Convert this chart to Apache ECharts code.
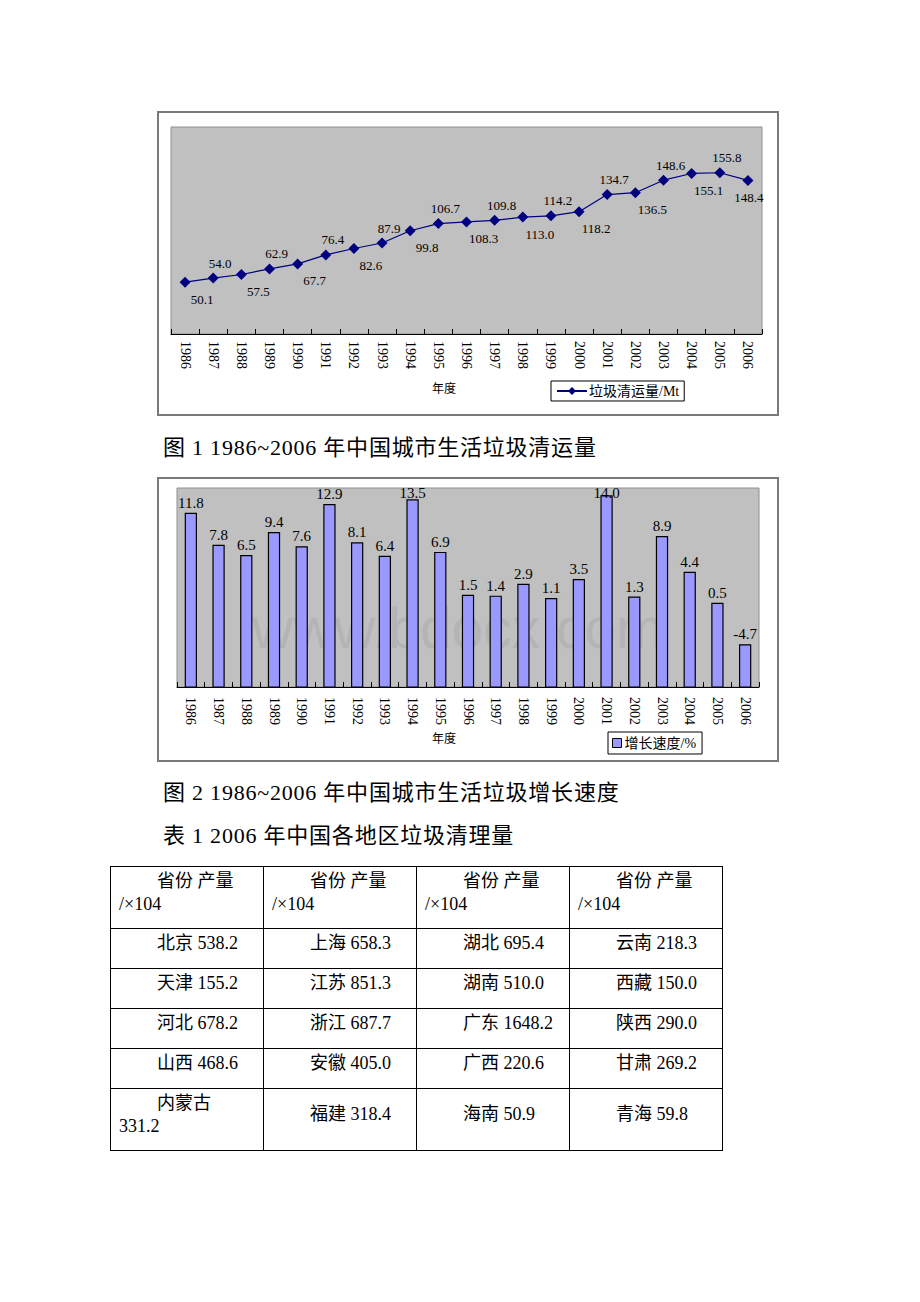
<!DOCTYPE html>
<html>
<head>
<meta charset="utf-8">
<script src="https://cdn.jsdelivr.net/npm/echarts@6/dist/echarts.min.js"></script>
<style>
  html, body { margin: 0; padding: 0; background: #fff; }
  body { width: 920px; height: 1302px; position: relative; overflow: hidden;
         font-family: "Liberation Serif", "Noto Sans CJK SC", serif; color: #000; }
  .box { position: absolute; box-sizing: border-box; border: 2px solid #7a7a7a; background: #fff; }
  .cap { position: absolute; left: 163px; font-size: 22px; letter-spacing: 0.78px; line-height: 24px; white-space: nowrap; }
  #tbl { position: absolute; left: 110px; top: 866px; display: grid;
         grid-template-columns: 153px 153px 153px 153px;
         grid-template-rows: 62px 40px 40px 40px 40px 62px;
         border-left: 1px solid #000; border-top: 1px solid #000; box-sizing: border-box; }
  #tbl .c { box-sizing: border-box; border-right: 1px solid #000; border-bottom: 1px solid #000;
            display: flex; align-items: center; padding-bottom: 10px; font-size: 18px; line-height: 23px; }
  #tbl .c span { display: block; padding-left: 8px; text-indent: 38px; white-space: nowrap; }
</style>
</head>
<body>
<div class="box" id="c1" style="left:157px;top:111px;width:622px;height:305px;"></div>
<div class="cap" style="top:436px;">图 1 1986~2006 年中国城市生活垃圾清运量</div>
<div class="box" id="c2" style="left:157px;top:477px;width:622px;height:285px;"></div>
<div class="cap" style="top:781px;">图 2 1986~2006 年中国城市生活垃圾增长速度</div>
<div class="cap" style="top:824px;">表 1 2006 年中国各地区垃圾清理量</div>
<div id="tbl"></div>
<script>
// ---- data ----
const years = ['1986','1987','1988','1989','1990','1991','1992','1993','1994','1995','1996',
               '1997','1998','1999','2000','2001','2002','2003','2004','2005','2006'];
const cleanVolume = [50.1, 54.0, 57.5, 62.9, 67.7, 76.4, 82.6, 87.9, 99.8, 106.7, 108.3,
                     109.8, 113.0, 114.2, 118.2, 134.7, 136.5, 148.6, 155.1, 155.8, 148.4];
const growthRate = [11.8, 7.8, 6.5, 9.4, 7.6, 12.9, 8.1, 6.4, 13.5, 6.9, 1.5,
                    1.4, 2.9, 1.1, 3.5, 14.0, 1.3, 8.9, 4.4, 0.5, -4.7];
const seriesName1 = '垃圾清运量/Mt';
const seriesName2 = '增长速度/%';
const axisName = '年度';
const tableHeader = ['省份 产量', '/×104'];
const provinces = [
  ['北京', '上海', '湖北', '云南'],
  ['天津', '江苏', '湖南', '西藏'],
  ['河北', '浙江', '广东', '陕西'],
  ['山西', '安徽', '广西', '甘肃'],
  ['内蒙古', '福建', '海南', '青海']
];
const amounts = [
  [538.2, 658.3, 695.4, 218.3],
  [155.2, 851.3, 510.0, 150.0],
  [678.2, 687.7, 1648.2, 290.0],
  [468.6, 405.0, 220.6, 269.2],
  [331.2, 318.4, 50.9, 59.8]
];

// ---- table ----
(function(){
  const tbl = document.getElementById('tbl');
  let html = '';
  for (let k = 0; k < 4; k++) html += '<div class="c"><span>' + tableHeader[0] + '<br>' + tableHeader[1] + '</span></div>';
  provinces.forEach(function(row, r){
    row.forEach(function(p, c){
      const v = amounts[r][c].toFixed(1);
      const txt = (p.length > 2) ? (p + '<br>' + v) : (p + ' ' + v);
      html += '<div class="c"><span>' + txt + '</span></div>';
    });
  });
  tbl.innerHTML = html;
})();

const serif = '"Liberation Serif", "Times New Roman", serif';
const mixed = '"Liberation Serif", "Noto Sans CJK SC", serif';
const cjk = '"Noto Sans CJK SC", sans-serif';

// ---- chart 1: line ----
const ch1 = echarts.init(document.getElementById('c1'), null, {renderer: 'svg'});
const lastIdx = cleanVolume.length - 1;
ch1.setOption({
  animation: false,
  grid: { left: 12, top: 14, width: 591, height: 207, show: true,
          backgroundColor: '#C0C0C0', borderColor: '#909090', borderWidth: 1 },
  xAxis: {
    type: 'category', data: years, boundaryGap: true,
    axisLine: { onZero: false, lineStyle: { color: '#000', width: 1 } },
    axisTick: { show: true, inside: true, length: 5, interval: 0, lineStyle: { color: '#000' } },
    axisLabel: { rotate: -90, interval: 0, margin: 7, fontSize: 14, fontFamily: serif, color: '#000' },
    splitLine: { show: false }
  },
  yAxis: { type: 'value', min: 0, max: 200, show: false, splitLine: { show: false } },
  legend: {
    left: 392, top: 268, padding: [3, 5, 3, 5], itemWidth: 30, itemHeight: 10, itemGap: 0,
    borderColor: '#000', borderWidth: 1, backgroundColor: '#fff', borderRadius: 0,
    textStyle: { fontSize: 14, fontFamily: mixed, color: '#000', padding: [0, 0, 0, -3] },
    data: [seriesName1]
  },
  graphic: [{ type: 'text', left: 273, top: 268,
              style: { text: axisName, fontSize: 12, fontFamily: cjk, fill: '#000' } }],
  series: [{
    name: seriesName1, type: 'line',
    data: cleanVolume.map(function(v, i){
      return { value: v, label: (i % 2 === 0)
        ? { position: 'bottom', offset: [i === lastIdx ? 1 : 17, 0] }
        : { position: 'top', offset: [7, 2] } };
    }),
    symbol: 'diamond', symbolSize: 11,
    lineStyle: { color: '#000080', width: 1.2 },
    itemStyle: { color: '#000080' },
    label: { show: true, fontSize: 13, fontFamily: serif, color: '#000',
             formatter: function(p){ return Number(p.value).toFixed(1); } }
  }]
});

// ---- chart 2: bars ----
const ch2 = echarts.init(document.getElementById('c2'), null, {renderer: 'svg'});
ch2.setOption({
  animation: false,
  grid: { left: 18, top: 9, width: 582, height: 199, show: true,
          backgroundColor: '#C0C0C0', borderColor: '#909090', borderWidth: 1 },
  xAxis: {
    type: 'category', data: years, boundaryGap: true,
    axisLine: { onZero: false, lineStyle: { color: '#000', width: 1 } },
    axisTick: { show: true, inside: true, length: 5, interval: 0, lineStyle: { color: '#000' } },
    axisLabel: { rotate: -90, interval: 0, margin: 10, fontSize: 14, fontFamily: serif, color: '#000' },
    splitLine: { show: false }
  },
  yAxis: { type: 'value', min: -10, max: 15, show: false, splitLine: { show: false } },
  legend: {
    left: 449, top: 253, padding: [4, 6, 4, 4], itemWidth: 9, itemHeight: 9,
    borderColor: '#000', borderWidth: 1, backgroundColor: '#fff', borderRadius: 0,
    textStyle: { fontSize: 14, fontFamily: mixed, color: '#000', padding: [0, 0, 0, -2] },
    data: [{ name: seriesName2, icon: 'rect',
             itemStyle: { color: '#9999FF', borderColor: '#000', borderWidth: 1 } }]
  },
  graphic: [
    { type: 'text', left: 273, top: 252, z: 100,
      style: { text: axisName, fontSize: 12, fontFamily: cjk, fill: '#000' } },
    { type: 'text', left: 93, top: 120, z: 1, silent: true,
      style: { text: 'www.bdocx.com', fontSize: 57, fontFamily: '"Liberation Sans", Arial, sans-serif', fill: '#b4b4b4' } }
  ],
  series: [{
    name: seriesName2, type: 'custom', z: 5,
    itemStyle: { color: '#9999FF' },
    data: growthRate.map(function(v, i){ return [i, v]; }),
    renderItem: function(params, api){
      const idx = api.value(0), v = api.value(1);
      const top = api.coord([idx, v]);
      const cs = params.coordSys;
      const bottomY = cs.y + cs.height;
      const w = api.size([1, 0])[0] * 0.4;
      const labelY = Math.max(top[1] - 3, cs.y + 12);
      return { type: 'group', children: [
        { type: 'rect', shape: { x: top[0] - w / 2, y: top[1], width: w, height: bottomY - top[1] },
          style: { fill: '#9999FF', stroke: '#000', lineWidth: 1.2 } },
        { type: 'text', z2: 10, style: { text: v.toFixed(1), x: top[0], y: labelY,
          align: 'center', verticalAlign: 'bottom', textAlign: 'center', textVerticalAlign: 'bottom',
          fontSize: 15, fontFamily: serif, fill: '#000' } }
      ]};
    }
  }]
});
</script>
</body>
</html>
